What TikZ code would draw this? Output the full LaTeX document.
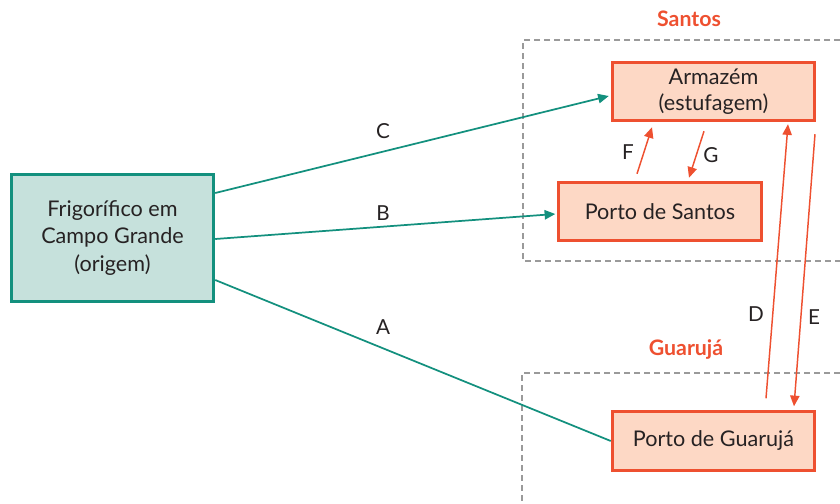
\documentclass[tikz,border=0pt]{standalone}
\usepackage{fontspec}
\setmainfont{Lato}
\usetikzlibrary{arrows.meta,calc}
\definecolor{tealline}{HTML}{13907E}
\definecolor{tealfill}{HTML}{C6E1DC}
\definecolor{orgline}{HTML}{EE5030}
\definecolor{orgfill}{HTML}{FDD8C5}
\definecolor{txt}{HTML}{262223}
\definecolor{dashgray}{HTML}{9A9A9A}
\begin{document}
\begin{tikzpicture}[x=0.75pt,y=-0.75pt,
  every node/.style={text=txt,font=\fontsize{16.2pt}{20.5pt}\selectfont},
  origbox/.style={draw=tealline,fill=tealfill,line width=2.2pt,minimum width=202.5pt*0.75,minimum height=127.5pt*0.75,align=center,inner sep=0pt},
  destbox/.style={draw=orgline,fill=orgfill,line width=2.2pt,minimum width=202.5pt*0.75,minimum height=58.5pt*0.75,align=center,inner sep=0pt},
  zone/.style={draw=dashgray,line width=1.1pt,dash pattern=on 4.5pt off 3pt},
  zonelabel/.style={text=orgline,font=\bfseries\fontsize{16pt}{18pt}\selectfont},
  flow/.style={draw=tealline,line width=1.3pt},
  flowarrow/.style={flow,-{Triangle[length=8pt,width=7pt]}},
  swap/.style={draw=orgline,line width=1.1pt,-{Triangle[length=8pt,width=7pt]}},
  tag/.style={font=\fontsize{15.5pt}{17pt}\selectfont}]
\useasboundingbox (0,0) rectangle (840,504);

% dashed regions
\draw[zone] (840,40) -- (523,40) -- (523,261) -- (840,261);
\draw[zone] (840,373) -- (522,373) -- (522,504);
\node[zonelabel] (lsantos) at (689,19) {Santos};
\node[zonelabel] (lguaruja) at (686,350) {Guarujá};

% boxes
\node[origbox] (orig) at (112.5,238) {Frigorífico em\\Campo Grande\\(origem)};
\node[destbox] (arm) at (713.5,91.5) {Armazém\\[-1pt](estufagem)};
\node[destbox] (ps) at (660,211.5) {Porto de Santos};
\node[destbox] (pg) at (713.5,441) {Porto de Guarujá};

% flows from the origin
\draw[flowarrow] ($(orig.east)+(0,-45)$) -- ($(arm.west)+(-2,4.5)$);
\draw[flowarrow] ($(orig.east)+(0,1)$) -- ($(ps.west)+(-2,2.5)$);
\draw[flow] ($(orig.east)+(0,42)$) -- (pg.west);
\node[tag] (tc) at (383,131) {C};
\node[tag] (tb) at (383,213) {B};
\node[tag] (ta) at (383,327) {A};

% movements between warehouse and ports
\draw[swap] ($(ps.north)+(-23,-7)$) -- ($(arm.south)+(-61.5,5)$);
\draw[swap] ($(arm.south)+(-9.5,9)$) -- ($(ps.north)+(29,-3)$);
\draw[swap] ($(pg.north)+(52.5,-12)$) -- ($(arm.south)+(74.5,2)$);
\draw[swap] ($(arm.south)+(101.5,12)$) -- ($(pg.north)+(80.5,-4)$);
\node[tag] (tf) at (628,152) {F};
\node[tag] (tg) at (711,155) {G};
\node[tag] (td) at (756,314) {D};
\node[tag] (te) at (814,317) {E};
\end{tikzpicture}
\end{document}
